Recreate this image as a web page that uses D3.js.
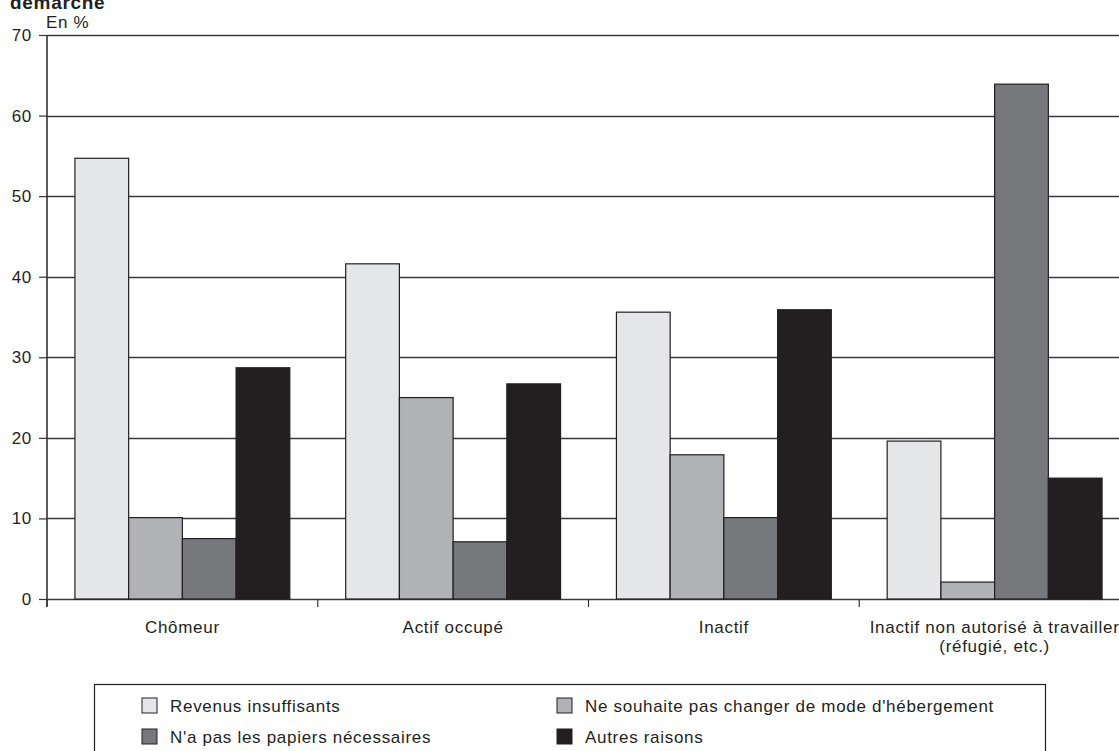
<!DOCTYPE html>
<html>
<head>
<meta charset="utf-8">
<script src="https://cdn.jsdelivr.net/npm/d3@7"></script>
<style>
  html, body { margin: 0; padding: 0; background: #fff; }
  svg { display: block; }
  text { font-family: "Liberation Sans", Arial, Helvetica, sans-serif; fill: #231f20; letter-spacing: 0.7px; }
</style>
</head>
<body>
<svg id="chart" width="1119" height="751"></svg>
<script>
// ---- Data ----
const categories = ["Chômeur", "Actif occupé", "Inactif", "Inactif non autorisé à travailler|(réfugié, etc.)"];
const seriesNames = ["Revenus insuffisants", "Ne souhaite pas changer de mode d'hébergement", "N'a pas les papiers nécessaires", "Autres raisons"];
const revenusInsuffisants = [54.7, 41.6, 35.6, 19.6];
const neSouhaitePas = [10.1, 25.0, 17.9, 2.1];
const papiers = [7.5, 7.1, 10.1, 63.9];
const autresRaisons = [28.7, 26.7, 35.9, 15.0];
const yTicks = [0, 10, 20, 30, 40, 50, 60, 70];
const titleText = "démarche";
const unitText = "En %";

// ---- Styles ----
const colors = ["#e5e6e8", "#b1b2b6", "#77787c", "#231f20"];
const seriesValues = [revenusInsuffisants, neSouhaitePas, papiers, autresRaisons];

const svg = d3.select("#chart");
const margin = { left: 47, top: 35, bottom: 599, right: 1130 };

const x = d3.scaleBand().domain(categories).range([margin.left, margin.right]).paddingInner(0).paddingOuter(0);
const xs = d3.scaleBand().domain(d3.range(seriesNames.length)).range([0, x.bandwidth()]).paddingInner(0).paddingOuter(0.52);
const y = d3.scaleLinear().domain([0, 70]).range([margin.bottom, margin.top]);

// Title (partially cut at top, as in the reference)
svg.append("text").attr("x", 10).attr("y", 9)
  .style("font-weight", "bold").style("font-size", "19px").text(titleText);

svg.append("text").attr("x", 46).attr("y", 28).style("font-size", "17px").text(unitText);

// Gridlines
svg.append("g").selectAll("line").data(yTicks).join("line")
  .attr("x1", margin.left).attr("x2", 1119)
  .attr("y1", d => Math.round(y(d)) + 0.5).attr("y2", d => Math.round(y(d)) + 0.5)
  .attr("stroke", "#3a3a3a").attr("stroke-width", 1.3);

// Y axis
const yAxis = d3.axisLeft(y).tickValues(yTicks).tickSize(8).tickPadding(7).tickFormat(d3.format("d"));
const gy = svg.append("g").attr("transform", `translate(${margin.left},0)`).call(yAxis);
gy.select(".domain").remove();
gy.selectAll(".tick line").attr("stroke", "#333").attr("stroke-width", 1.2);
gy.selectAll(".tick text").style("font-size", "17px").attr("fill", "#231f20").style("font-family", '"Liberation Sans", Arial, sans-serif');
svg.append("line").attr("x1", margin.left).attr("x2", margin.left)
  .attr("y1", margin.top).attr("y2", margin.bottom + 8)
  .attr("stroke", "#333").attr("stroke-width", 1.6);

// X axis ticks
const xTickPos = categories.map(c => x(c)).concat([margin.right]);
svg.append("g").selectAll("line").data(xTickPos).join("line")
  .attr("x1", d => d).attr("x2", d => d)
  .attr("y1", margin.bottom).attr("y2", margin.bottom + 8)
  .attr("stroke", "#333").attr("stroke-width", 1.2);

// Bars
const groups = svg.append("g").selectAll("g").data(categories).join("g")
  .attr("transform", c => `translate(${x(c)},0)`);
groups.selectAll("rect").data((c, ci) => seriesValues.map((vals, si) => ({ si, v: vals[ci] })))
  .join("rect")
  .attr("x", d => xs(d.si))
  .attr("y", d => y(d.v))
  .attr("width", xs.bandwidth())
  .attr("height", d => y(0) - y(d.v))
  .attr("fill", d => colors[d.si])
  .attr("stroke", "#231f20").attr("stroke-width", 1.2);

// Category labels
svg.append("g").selectAll("text").data(categories).join("text")
  .attr("text-anchor", "middle")
  .attr("x", c => x(c) + x.bandwidth() / 2)
  .attr("y", 633)
  .style("font-size", "17px")
  .each(function (c) {
    const parts = c.split("|");
    d3.select(this).selectAll("tspan").data(parts).join("tspan")
      .attr("x", x(c) + x.bandwidth() / 2)
      .attr("dy", (p, i) => i === 0 ? 0 : 19)
      .text(p => p);
  });

// Legend
svg.append("rect").attr("x", 94.5).attr("y", 684.5).attr("width", 951).attr("height", 100)
  .attr("fill", "none").attr("stroke", "#231f20").attr("stroke-width", 1.2);
const legendPos = [[142, 698], [557, 698], [142, 729], [557, 729]];
const lg = svg.append("g").selectAll("g").data(seriesNames).join("g")
  .attr("transform", (d, i) => `translate(${legendPos[i][0]},${legendPos[i][1]})`);
lg.append("rect").attr("width", 15).attr("height", 15)
  .attr("fill", (d, i) => colors[i]).attr("stroke", "#231f20").attr("stroke-width", 1);
lg.append("text").attr("x", 28).attr("y", 14).style("font-size", "17px").text(d => d);
</script>
</body>
</html>
